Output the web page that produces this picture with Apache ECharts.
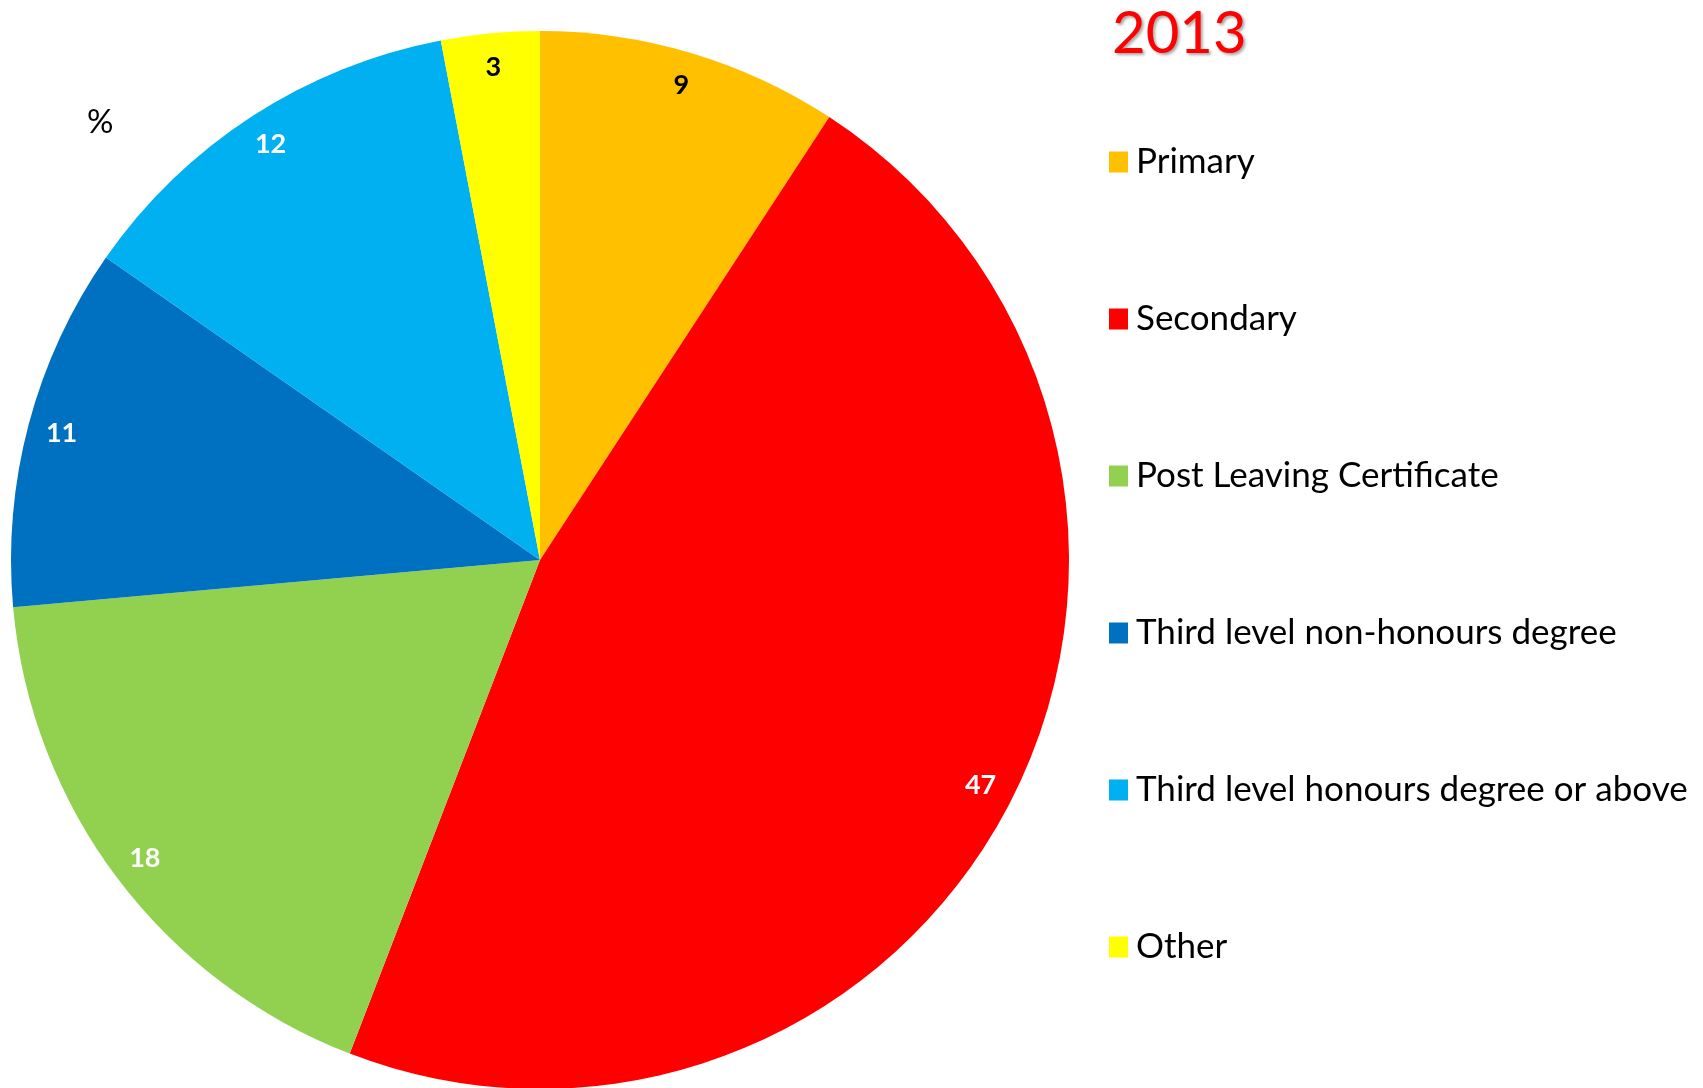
<!DOCTYPE html>
<html>
<head>
<meta charset="utf-8">
<script src="https://cdn.jsdelivr.net/npm/echarts@6/dist/echarts.min.js"></script>
<style>
html,body{margin:0;padding:0;background:#fff;}
#chart{width:1703px;height:1088px;}
</style>
</head>
<body>
<div id="chart"></div>
<script>
const categories = ['Primary', 'Secondary', 'Post Leaving Certificate', 'Third level non-honours degree', 'Third level honours degree or above', 'Other'];
const values = [9.2, 46.6, 17.7, 11.1, 12.3, 3.0];
const colors = ['#FFC000', '#FF0000', '#92D050', '#0070C0', '#00B0F0', '#FFFF00'];
const labelColors = ['#000000', '#ffffff', '#ffffff', '#ffffff', '#ffffff', '#000000'];
const titleText = '2013';
const unitText = '%';

const FONT = 'Lato, "Open Sans", sans-serif';
const chart = echarts.init(document.getElementById('chart'), null, {renderer: 'canvas'});

const mainData = categories.map((c, i) => ({name: c, value: values[i], itemStyle: {color: colors[i]}}));
const labelData = categories.map((c, i) => ({
  name: c, value: values[i],
  itemStyle: {color: 'rgba(0,0,0,0)'},
  label: {color: labelColors[i]}
}));

chart.setOption({
  animation: false,
  backgroundColor: '#ffffff',
  title: [
    {
      text: titleText, left: 1107, top: 0,
      textStyle: {
        fontFamily: FONT, fontSize: 58, fontWeight: 'normal', color: '#FF0000',
        textShadowColor: 'rgba(0,0,0,0.35)', textShadowBlur: 3, textShadowOffsetX: 2, textShadowOffsetY: 2
      }
    },
    {
      text: unitText, left: 82, top: 101,
      textStyle: {fontFamily: FONT, fontSize: 33, fontWeight: 'normal', color: '#000'}
    }
  ],
  legend: {
    orient: 'vertical',
    left: 1104, top: 139,
    itemWidth: 19, itemHeight: 21,
    itemGap: 121,
    icon: 'rect',
    selectedMode: false,
    data: categories.map((c, i) => ({name: c, itemStyle: {color: colors[i]}})),
    textStyle: {fontFamily: FONT, fontSize: 35, color: '#000', lineHeight: 36, padding: [0, 0, 0, 3]}
  },
  series: [
    {
      type: 'pie',
      center: [540, 560],
      radius: [0, 529],
      startAngle: 90,
      clockwise: true,
      silent: true,
      label: {show: false},
      labelLine: {show: false},
      itemStyle: {borderWidth: 0},
      data: mainData
    },
    {
      type: 'pie',
      center: [540, 560],
      radius: [458, 526],
      startAngle: 90,
      clockwise: true,
      silent: true,
      legendHoverLink: false,
      itemStyle: {borderWidth: 0},
      label: {
        show: true, position: 'inside',
        fontFamily: FONT, fontSize: 27, fontWeight: 'bold',
        padding: [4, 0, 0, 0],
        formatter: p => String(Math.round(p.value))
      },
      labelLine: {show: false},
      data: labelData
    }
  ]
});
</script>
</body>
</html>
